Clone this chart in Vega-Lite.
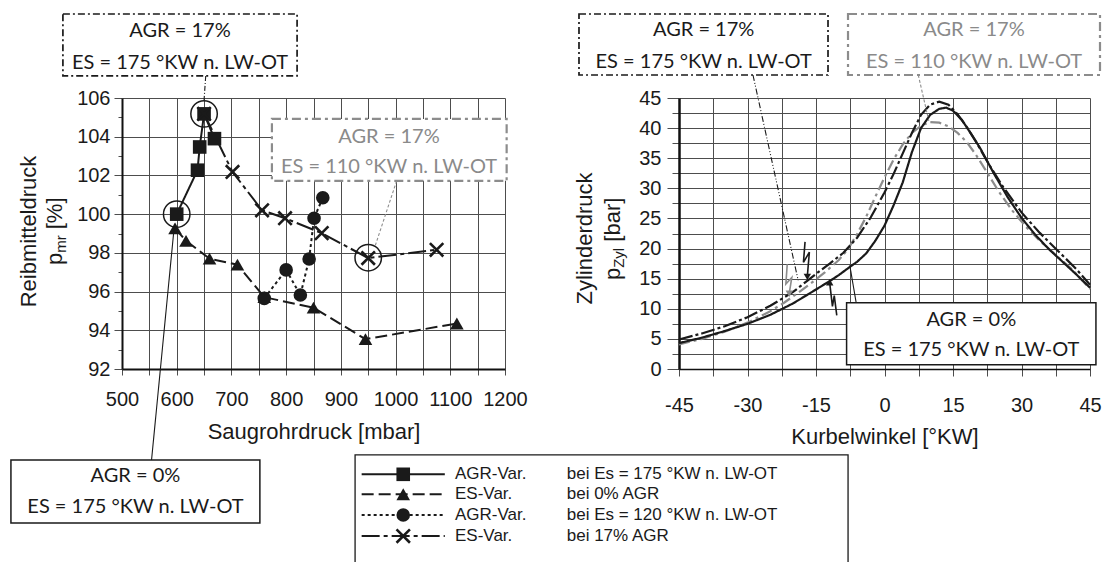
{
  "$schema": "https://vega.github.io/schema/vega-lite/v6.json",
  "background": "white",
  "autosize": {"type": "pad"},
  "padding": {"left": 10, "top": 12, "right": 6, "bottom": 6},
  "bounds": "flush",
  "spacing": 174,
  "resolve": {"scale": {"strokeDash": "independent", "color": "independent", "stroke": "independent", "fill": "independent", "shape": "independent", "size": "independent"}},
  "config": {
    "font": "Liberation Sans",
    "view": {"stroke": null},
    "axis": {
      "gridColor": "#4d4d4d", "gridWidth": 1, "tickColor": "#4d4d4d", "tickWidth": 1,
      "labelFont": "Liberation Sans", "labelFontSize": 20, "labelColor": "#1a1a1a",
      "titleFont": "Liberation Sans", "titleFontSize": 22, "titleFontWeight": "normal", "titleColor": "#1a1a1a",
      "domainColor": "#111111", "labelOverlap": false, "labelFlush": false, "labelBound": false
    }
  },
  "datasets": {
    "pmr": [
      {"series": "AGR-Var. ES 175", "mbar": 600, "pmr": 100.0},
      {"series": "AGR-Var. ES 175", "mbar": 638, "pmr": 102.27},
      {"series": "AGR-Var. ES 175", "mbar": 642, "pmr": 103.47},
      {"series": "AGR-Var. ES 175", "mbar": 650, "pmr": 105.18},
      {"series": "AGR-Var. ES 175", "mbar": 669, "pmr": 103.9},
      {"series": "ES-Var. 0% AGR", "mbar": 597, "pmr": 99.27},
      {"series": "ES-Var. 0% AGR", "mbar": 617, "pmr": 98.62},
      {"series": "ES-Var. 0% AGR", "mbar": 660, "pmr": 97.7},
      {"series": "ES-Var. 0% AGR", "mbar": 711, "pmr": 97.39},
      {"series": "ES-Var. 0% AGR", "mbar": 760, "pmr": 95.71},
      {"series": "ES-Var. 0% AGR", "mbar": 850, "pmr": 95.17},
      {"series": "ES-Var. 0% AGR", "mbar": 945, "pmr": 93.54},
      {"series": "ES-Var. 0% AGR", "mbar": 1112, "pmr": 94.35},
      {"series": "AGR-Var. ES 120", "mbar": 760, "pmr": 95.65},
      {"series": "AGR-Var. ES 120", "mbar": 800, "pmr": 97.12},
      {"series": "AGR-Var. ES 120", "mbar": 826, "pmr": 95.82},
      {"series": "AGR-Var. ES 120", "mbar": 842, "pmr": 97.68},
      {"series": "AGR-Var. ES 120", "mbar": 851, "pmr": 99.79},
      {"series": "AGR-Var. ES 120", "mbar": 867, "pmr": 100.85},
      {"series": "ES-Var. 17% AGR", "mbar": 650, "pmr": 105.18},
      {"series": "ES-Var. 17% AGR", "mbar": 702, "pmr": 102.18},
      {"series": "ES-Var. 17% AGR", "mbar": 756, "pmr": 100.2},
      {"series": "ES-Var. 17% AGR", "mbar": 798, "pmr": 99.79},
      {"series": "ES-Var. 17% AGR", "mbar": 865, "pmr": 99.02},
      {"series": "ES-Var. 17% AGR", "mbar": 950, "pmr": 97.73},
      {"series": "ES-Var. 17% AGR", "mbar": 1075, "pmr": 98.16}
    ],
    "marked": [
      {"mbar": 600, "pmr": 100.0},
      {"mbar": 650, "pmr": 105.18},
      {"mbar": 950, "pmr": 97.75}
    ],
    "boxesL": [
      {"box": "AGR 17%, ES 175", "mbar": 392, "mbar2": 820, "pmr": 107.14, "pmr2": 110.34},
      {"box": "AGR 17%, ES 110", "mbar": 774, "mbar2": 1203, "pmr": 101.72, "pmr2": 104.92},
      {"box": "AGR 0%, ES 175", "mbar": 297, "mbar2": 752, "pmr": 84.04, "pmr2": 87.3}
    ],
    "textsL": [
      {"box": "AGR 17%, ES 175", "mbar": 606, "pmr": 109.46, "text": "AGR = 17%"},
      {"box": "AGR 17%, ES 175", "mbar": 606, "pmr": 107.82, "text": "ES = 175 °KW n. LW-OT"},
      {"box": "AGR 17%, ES 110", "mbar": 988, "pmr": 103.98, "text": "AGR = 17%"},
      {"box": "AGR 17%, ES 110", "mbar": 988, "pmr": 102.44, "text": "ES = 110 °KW n. LW-OT"},
      {"box": "AGR 0%, ES 175", "mbar": 524.6, "pmr": 86.47, "text": "AGR = 0%"},
      {"box": "AGR 0%, ES 175", "mbar": 524.6, "pmr": 84.85, "text": "ES = 175 °KW n. LW-OT"}
    ],
    "leadersL": [
      {"box": "AGR 17%, ES 175", "i": 0, "mbar": 653, "pmr": 107.14},
      {"box": "AGR 17%, ES 175", "i": 1, "mbar": 650, "pmr": 105.9},
      {"box": "AGR 17%, ES 110", "i": 0, "mbar": 1002, "pmr": 101.72},
      {"box": "AGR 17%, ES 110", "i": 1, "mbar": 962, "pmr": 98.3},
      {"box": "AGR 0%, ES 175", "i": 0, "mbar": 554, "pmr": 87.3},
      {"box": "AGR 0%, ES 175", "i": 1, "mbar": 596, "pmr": 99.5}
    ],
    "legendBox": [{"mbar": 926, "mbar2": 1827, "pmr": 80.0, "pmr2": 87.56}],
    "legend": [
      {"series": "AGR-Var. ES 175", "part": "line", "mbar": 938, "mbar2": 1090, "pmr": 86.56},
      {"series": "ES-Var. 0% AGR", "part": "line", "mbar": 938, "mbar2": 1090, "pmr": 85.53},
      {"series": "AGR-Var. ES 120", "part": "line", "mbar": 938, "mbar2": 1090, "pmr": 84.46},
      {"series": "ES-Var. 17% AGR", "part": "line", "mbar": 938, "mbar2": 1090, "pmr": 83.37},
      {"series": "AGR-Var. ES 175", "part": "mark", "mbar": 1014, "pmr": 86.56},
      {"series": "ES-Var. 0% AGR", "part": "mark", "mbar": 1014, "pmr": 85.53},
      {"series": "AGR-Var. ES 120", "part": "mark", "mbar": 1014, "pmr": 84.46},
      {"series": "ES-Var. 17% AGR", "part": "mark", "mbar": 1014, "pmr": 83.37},
      {"series": "AGR-Var. ES 175", "part": "name", "mbar": 1108.6, "pmr": 86.56, "text": "AGR-Var."},
      {"series": "ES-Var. 0% AGR", "part": "name", "mbar": 1108.6, "pmr": 85.53, "text": "ES-Var."},
      {"series": "AGR-Var. ES 120", "part": "name", "mbar": 1108.6, "pmr": 84.46, "text": "AGR-Var."},
      {"series": "ES-Var. 17% AGR", "part": "name", "mbar": 1108.6, "pmr": 83.37, "text": "ES-Var."},
      {"series": "AGR-Var. ES 175", "part": "desc", "mbar": 1312.8, "pmr": 86.56, "text": "bei Es = 175 °KW n. LW-OT"},
      {"series": "ES-Var. 0% AGR", "part": "desc", "mbar": 1312.8, "pmr": 85.53, "text": "bei 0% AGR"},
      {"series": "AGR-Var. ES 120", "part": "desc", "mbar": 1312.8, "pmr": 84.46, "text": "bei Es = 120 °KW n. LW-OT"},
      {"series": "ES-Var. 17% AGR", "part": "desc", "mbar": 1312.8, "pmr": 83.37, "text": "bei 17% AGR"}
    ],
    "ytitleL": [
      {"t": "p", "part": "main", "mbar": 390.3, "pmr": 97.37},
      {"t": "mr", "part": "sub", "mbar": 397.6, "pmr": 98.0},
      {"t": "[%]", "part": "main", "mbar": 390.3, "pmr": 99.22}
    ],
    "pzyl": [
      {"curve": "AGR 17%, ES 110", "deg": -45, "bar": 4.1},
      {"curve": "AGR 17%, ES 110", "deg": -40, "bar": 5.0},
      {"curve": "AGR 17%, ES 110", "deg": -35, "bar": 6.2},
      {"curve": "AGR 17%, ES 110", "deg": -30, "bar": 7.7},
      {"curve": "AGR 17%, ES 110", "deg": -25, "bar": 9.6},
      {"curve": "AGR 17%, ES 110", "deg": -22, "bar": 11.0},
      {"curve": "AGR 17%, ES 110", "deg": -19, "bar": 12.6},
      {"curve": "AGR 17%, ES 110", "deg": -16, "bar": 14.3},
      {"curve": "AGR 17%, ES 110", "deg": -13, "bar": 16.1},
      {"curve": "AGR 17%, ES 110", "deg": -10, "bar": 18.1},
      {"curve": "AGR 17%, ES 110", "deg": -8, "bar": 19.9},
      {"curve": "AGR 17%, ES 110", "deg": -6, "bar": 22.4},
      {"curve": "AGR 17%, ES 110", "deg": -4, "bar": 25.3},
      {"curve": "AGR 17%, ES 110", "deg": -2, "bar": 28.6},
      {"curve": "AGR 17%, ES 110", "deg": 0, "bar": 31.8},
      {"curve": "AGR 17%, ES 110", "deg": 2, "bar": 34.8},
      {"curve": "AGR 17%, ES 110", "deg": 4, "bar": 37.3},
      {"curve": "AGR 17%, ES 110", "deg": 6, "bar": 39.2},
      {"curve": "AGR 17%, ES 110", "deg": 8, "bar": 40.4},
      {"curve": "AGR 17%, ES 110", "deg": 10, "bar": 41.0},
      {"curve": "AGR 17%, ES 110", "deg": 12, "bar": 40.9},
      {"curve": "AGR 17%, ES 110", "deg": 14, "bar": 40.3},
      {"curve": "AGR 17%, ES 110", "deg": 16, "bar": 39.2},
      {"curve": "AGR 17%, ES 110", "deg": 18, "bar": 37.7},
      {"curve": "AGR 17%, ES 110", "deg": 20, "bar": 35.6},
      {"curve": "AGR 17%, ES 110", "deg": 22, "bar": 33.2},
      {"curve": "AGR 17%, ES 110", "deg": 25, "bar": 29.5},
      {"curve": "AGR 17%, ES 110", "deg": 28, "bar": 26.3},
      {"curve": "AGR 17%, ES 110", "deg": 31, "bar": 23.6},
      {"curve": "AGR 17%, ES 110", "deg": 34, "bar": 21.3},
      {"curve": "AGR 17%, ES 110", "deg": 38, "bar": 18.6},
      {"curve": "AGR 17%, ES 110", "deg": 41, "bar": 16.6},
      {"curve": "AGR 17%, ES 110", "deg": 45, "bar": 13.3},
      {"curve": "AGR 17%, ES 175", "deg": -45, "bar": 4.9},
      {"curve": "AGR 17%, ES 175", "deg": -40, "bar": 5.9},
      {"curve": "AGR 17%, ES 175", "deg": -35, "bar": 7.1},
      {"curve": "AGR 17%, ES 175", "deg": -30, "bar": 8.6},
      {"curve": "AGR 17%, ES 175", "deg": -25, "bar": 10.5},
      {"curve": "AGR 17%, ES 175", "deg": -20, "bar": 12.8},
      {"curve": "AGR 17%, ES 175", "deg": -17, "bar": 14.6},
      {"curve": "AGR 17%, ES 175", "deg": -15, "bar": 15.8},
      {"curve": "AGR 17%, ES 175", "deg": -12, "bar": 17.5},
      {"curve": "AGR 17%, ES 175", "deg": -9, "bar": 19.3},
      {"curve": "AGR 17%, ES 175", "deg": -6, "bar": 21.8},
      {"curve": "AGR 17%, ES 175", "deg": -3, "bar": 25.2},
      {"curve": "AGR 17%, ES 175", "deg": 0, "bar": 29.3},
      {"curve": "AGR 17%, ES 175", "deg": 2, "bar": 32.4},
      {"curve": "AGR 17%, ES 175", "deg": 4, "bar": 35.8},
      {"curve": "AGR 17%, ES 175", "deg": 6, "bar": 39.2},
      {"curve": "AGR 17%, ES 175", "deg": 8, "bar": 42.2},
      {"curve": "AGR 17%, ES 175", "deg": 10, "bar": 43.9},
      {"curve": "AGR 17%, ES 175", "deg": 12, "bar": 44.4},
      {"curve": "AGR 17%, ES 175", "deg": 14, "bar": 43.9},
      {"curve": "AGR 17%, ES 175", "deg": 16, "bar": 42.3},
      {"curve": "AGR 17%, ES 175", "deg": 18, "bar": 40.2},
      {"curve": "AGR 17%, ES 175", "deg": 20, "bar": 37.8},
      {"curve": "AGR 17%, ES 175", "deg": 23, "bar": 33.8},
      {"curve": "AGR 17%, ES 175", "deg": 26, "bar": 30.2},
      {"curve": "AGR 17%, ES 175", "deg": 30, "bar": 26.0},
      {"curve": "AGR 17%, ES 175", "deg": 34, "bar": 22.6},
      {"curve": "AGR 17%, ES 175", "deg": 38, "bar": 19.6},
      {"curve": "AGR 17%, ES 175", "deg": 42, "bar": 16.6},
      {"curve": "AGR 17%, ES 175", "deg": 45, "bar": 14.0},
      {"curve": "AGR 0%, ES 175", "deg": -45, "bar": 4.3},
      {"curve": "AGR 0%, ES 175", "deg": -40, "bar": 5.2},
      {"curve": "AGR 0%, ES 175", "deg": -35, "bar": 6.3},
      {"curve": "AGR 0%, ES 175", "deg": -30, "bar": 7.5},
      {"curve": "AGR 0%, ES 175", "deg": -25, "bar": 9.0},
      {"curve": "AGR 0%, ES 175", "deg": -20, "bar": 10.9},
      {"curve": "AGR 0%, ES 175", "deg": -15, "bar": 13.2},
      {"curve": "AGR 0%, ES 175", "deg": -12, "bar": 14.6},
      {"curve": "AGR 0%, ES 175", "deg": -10, "bar": 15.6},
      {"curve": "AGR 0%, ES 175", "deg": -7.5, "bar": 17.0},
      {"curve": "AGR 0%, ES 175", "deg": -6, "bar": 17.8},
      {"curve": "AGR 0%, ES 175", "deg": -4, "bar": 19.2},
      {"curve": "AGR 0%, ES 175", "deg": -2, "bar": 21.3},
      {"curve": "AGR 0%, ES 175", "deg": 0, "bar": 23.8},
      {"curve": "AGR 0%, ES 175", "deg": 2, "bar": 27.2},
      {"curve": "AGR 0%, ES 175", "deg": 4, "bar": 31.0},
      {"curve": "AGR 0%, ES 175", "deg": 6, "bar": 36.0},
      {"curve": "AGR 0%, ES 175", "deg": 8, "bar": 40.0},
      {"curve": "AGR 0%, ES 175", "deg": 10, "bar": 42.2},
      {"curve": "AGR 0%, ES 175", "deg": 12, "bar": 43.2},
      {"curve": "AGR 0%, ES 175", "deg": 13.5, "bar": 43.4},
      {"curve": "AGR 0%, ES 175", "deg": 15, "bar": 42.9},
      {"curve": "AGR 0%, ES 175", "deg": 17, "bar": 41.3},
      {"curve": "AGR 0%, ES 175", "deg": 19, "bar": 39.0},
      {"curve": "AGR 0%, ES 175", "deg": 21, "bar": 36.6},
      {"curve": "AGR 0%, ES 175", "deg": 24, "bar": 32.4},
      {"curve": "AGR 0%, ES 175", "deg": 27, "bar": 28.5},
      {"curve": "AGR 0%, ES 175", "deg": 30, "bar": 25.1},
      {"curve": "AGR 0%, ES 175", "deg": 33, "bar": 22.3},
      {"curve": "AGR 0%, ES 175", "deg": 36, "bar": 19.9},
      {"curve": "AGR 0%, ES 175", "deg": 39, "bar": 17.8},
      {"curve": "AGR 0%, ES 175", "deg": 42, "bar": 15.7},
      {"curve": "AGR 0%, ES 175", "deg": 45, "bar": 13.5}
    ],
    "bolts": [
      {"curve": "AGR 17%, ES 110", "i": 0, "deg": -21.3, "bar": 17.4},
      {"curve": "AGR 17%, ES 110", "i": 1, "deg": -21.6, "bar": 14.1},
      {"curve": "AGR 17%, ES 110", "i": 2, "deg": -20.3, "bar": 15.2},
      {"curve": "AGR 17%, ES 110", "i": 3, "deg": -20.85, "bar": 12.6},
      {"curve": "AGR 17%, ES 175", "i": 0, "deg": -17.4, "bar": 21.1},
      {"curve": "AGR 17%, ES 175", "i": 1, "deg": -17.75, "bar": 17.7},
      {"curve": "AGR 17%, ES 175", "i": 2, "deg": -16.45, "bar": 19.4},
      {"curve": "AGR 17%, ES 175", "i": 3, "deg": -16.9, "bar": 15.4},
      {"curve": "AGR 0%, ES 175", "i": 0, "deg": -10.45, "bar": 8.9},
      {"curve": "AGR 0%, ES 175", "i": 1, "deg": -11.0, "bar": 12.2},
      {"curve": "AGR 0%, ES 175", "i": 2, "deg": -11.4, "bar": 10.4},
      {"curve": "AGR 0%, ES 175", "i": 3, "deg": -12.0, "bar": 14.3}
    ],
    "heads": [
      {"curve": "AGR 17%, ES 110", "dir": "down", "deg": -20.85, "bar": 12.5},
      {"curve": "AGR 17%, ES 175", "dir": "down", "deg": -16.9, "bar": 15.3},
      {"curve": "AGR 0%, ES 175", "dir": "up", "deg": -12.0, "bar": 14.4}
    ],
    "boxesR": [
      {"box": "AGR 17%, ES 175", "deg": -66.9, "deg2": -12.37, "bar": 48.82, "bar2": 58.95},
      {"box": "AGR 17%, ES 110", "deg": -7.99, "deg2": 47.19, "bar": 48.82, "bar2": 58.95},
      {"box": "AGR 0%, ES 175", "deg": -8.3, "deg2": 46.3, "bar": 0.7, "bar2": 11.0}
    ],
    "textsR": [
      {"box": "AGR 17%, ES 175", "deg": -39.6, "bar": 56.29, "text": "AGR = 17%"},
      {"box": "AGR 17%, ES 175", "deg": -39.6, "bar": 50.98, "text": "ES = 175 °KW n. LW-OT"},
      {"box": "AGR 17%, ES 110", "deg": 19.6, "bar": 56.29, "text": "AGR = 17%"},
      {"box": "AGR 17%, ES 110", "deg": 19.6, "bar": 50.98, "text": "ES = 110 °KW n. LW-OT"},
      {"box": "AGR 0%, ES 175", "deg": 19.0, "bar": 8.16, "text": "AGR = 0%"},
      {"box": "AGR 0%, ES 175", "deg": 19.0, "bar": 3.2, "text": "ES = 175 °KW n. LW-OT"}
    ],
    "leadersR": [
      {"box": "AGR 17%, ES 175", "i": 0, "deg": -28.8, "bar": 48.82},
      {"box": "AGR 17%, ES 175", "i": 1, "deg": -18.9, "bar": 14.7},
      {"box": "AGR 17%, ES 110", "i": 0, "deg": 7.4, "bar": 48.82},
      {"box": "AGR 17%, ES 110", "i": 1, "deg": 9.7, "bar": 41.2},
      {"box": "AGR 0%, ES 175", "i": 0, "deg": -6.2, "bar": 11.0},
      {"box": "AGR 0%, ES 175", "i": 1, "deg": -7.6, "bar": 17.2}
    ],
    "ytitleR": [
      {"t": "p", "part": "main", "deg": -57.92, "bar": 14.78},
      {"t": "Zyl", "part": "sub", "deg": -57.04, "bar": 16.8},
      {"t": "[bar]", "part": "main", "deg": -57.92, "bar": 21.14}
    ]
  },
  "hconcat": [
    {
      "width": 383,
      "height": 271,
      "resolve": {"scale": {"strokeDash": "independent", "stroke": "independent", "fill": "independent", "shape": "independent", "size": "independent"}},
      "encoding": {
        "x": {"field": "mbar", "type": "quantitative", "scale": {"domain": [500, 1200], "nice": false, "zero": false},
          "axis": {"values": [500, 550, 600, 650, 700, 750, 800, 850, 900, 950, 1000, 1050, 1100, 1150, 1200], "format": "d",
            "labelExpr": "datum.value % 100 === 0 ? datum.label : ''",
            "title": "Saugrohrdruck [mbar]", "titleY": 69, "titleBaseline": "alphabetic",
            "tickSize": 6, "labelPadding": 14, "domainWidth": 2}},
        "y": {"field": "pmr", "type": "quantitative", "scale": {"domain": [92, 106], "nice": false, "zero": false},
          "axis": {"values": [92, 93, 94, 95, 96, 97, 98, 99, 100, 101, 102, 103, 104, 105, 106], "format": "d",
            "labelExpr": "datum.value % 2 === 0 ? datum.label : ''",
            "gridOpacity": {"condition": {"test": "datum.value % 2 === 0", "value": 1}, "value": 0},
            "tickSize": {"condition": {"test": "datum.value % 2 === 0", "value": 8}, "value": 4},
            "labelPadding": 4, "title": "Reibmitteldruck", "titleAngle": 270, "titleX": -87, "titleY": 133,
            "titleAlign": "center", "titleBaseline": "alphabetic", "domainWidth": 2}}
      },
      "layer": [
        {
          "data": {"name": "pmr"},
          "mark": {"type": "line", "strokeWidth": 2, "color": "#1a1a1a"},
          "encoding": {
            "detail": {"field": "series"},
            "strokeDash": {"field": "series", "type": "nominal", "legend": null,
              "scale": {"domain": ["AGR-Var. ES 175", "ES-Var. 0% AGR", "AGR-Var. ES 120", "ES-Var. 17% AGR"], "range": [[1, 0], [12, 5], [3, 3], [18, 4, 4, 4]]}}
          }
        },
        {
          "data": {"name": "pmr"},
          "transform": [{"filter": "datum.series !== 'ES-Var. 17% AGR'"}],
          "mark": {"type": "point", "filled": true, "opacity": 1, "color": "#1a1a1a", "size": 185},
          "encoding": {
            "shape": {"field": "series", "type": "nominal", "legend": null,
              "scale": {"domain": ["AGR-Var. ES 175", "ES-Var. 0% AGR", "AGR-Var. ES 120"], "range": ["square", "triangle-up", "circle"]}}
          }
        },
        {
          "data": {"name": "pmr"},
          "transform": [{"filter": "datum.series === 'ES-Var. 17% AGR'"}],
          "mark": {"type": "point", "shape": "M-1,-1L1,1M-1,1L1,-1", "filled": false, "opacity": 1, "color": "#1a1a1a", "strokeWidth": 2.6, "size": 180}
        },
        {
          "data": {"name": "marked"},
          "mark": {"type": "point", "shape": "circle", "filled": false, "opacity": 1, "color": "#1a1a1a", "strokeWidth": 1.5, "size": 700}
        },
        {
          "data": {"name": "leadersL"},
          "mark": {"type": "line", "strokeWidth": 1.1},
          "encoding": {
            "detail": {"field": "box"},
            "order": {"field": "i"},
            "stroke": {"field": "box", "type": "nominal", "legend": null,
              "scale": {"domain": ["AGR 17%, ES 175", "AGR 17%, ES 110", "AGR 0%, ES 175"], "range": ["#1a1a1a", "#8c8c8c", "#1a1a1a"]}},
            "strokeDash": {"field": "box", "type": "nominal", "legend": null,
              "scale": {"domain": ["AGR 17%, ES 175", "AGR 17%, ES 110", "AGR 0%, ES 175"], "range": [[5, 2, 1, 2], [3, 2], [1, 0]]}}
          }
        },
        {
          "data": {"name": "boxesL"},
          "transform": [{"filter": "datum.box === 'AGR 17%, ES 175'"}],
          "mark": {"type": "rect", "fill": "white", "stroke": "#1a1a1a", "strokeWidth": 1.7, "strokeDash": [7, 3, 2, 3]},
          "encoding": {"x2": {"field": "mbar2"}, "y2": {"field": "pmr2"}}
        },
        {
          "data": {"name": "boxesL"},
          "transform": [{"filter": "datum.box === 'AGR 17%, ES 110'"}],
          "mark": {"type": "rect", "fill": "white", "stroke": "#8c8c8c", "strokeWidth": 2.2, "strokeDash": [9, 4, 3, 4]},
          "encoding": {"x2": {"field": "mbar2"}, "y2": {"field": "pmr2"}}
        },
        {
          "data": {"name": "boxesL"},
          "transform": [{"filter": "datum.box === 'AGR 0%, ES 175'"}],
          "mark": {"type": "rect", "fill": "white", "stroke": "#1a1a1a", "strokeWidth": 1.5},
          "encoding": {"x2": {"field": "mbar2"}, "y2": {"field": "pmr2"}}
        },
        {
          "data": {"name": "textsL"},
          "mark": {"type": "text", "font": "Lato", "fontSize": 20, "align": "center", "baseline": "middle"},
          "encoding": {
            "text": {"field": "text"},
            "fill": {"field": "box", "type": "nominal", "legend": null,
              "scale": {"domain": ["AGR 17%, ES 175", "AGR 17%, ES 110", "AGR 0%, ES 175"], "range": ["#1a1a1a", "#8a8a8a", "#1a1a1a"]}}
          }
        },
        {
          "data": {"name": "legendBox"},
          "mark": {"type": "rect", "fill": "white", "stroke": "#1a1a1a", "strokeWidth": 1.3},
          "encoding": {"x2": {"field": "mbar2"}, "y2": {"field": "pmr2"}}
        },
        {
          "data": {"name": "legend"},
          "transform": [{"filter": "datum.part === 'line'"}],
          "mark": {"type": "rule", "strokeWidth": 2, "color": "#1a1a1a"},
          "encoding": {
            "x2": {"field": "mbar2"},
            "strokeDash": {"field": "series", "type": "nominal", "legend": null,
              "scale": {"domain": ["AGR-Var. ES 175", "ES-Var. 0% AGR", "AGR-Var. ES 120", "ES-Var. 17% AGR"], "range": [[1, 0], [12, 5], [3, 3], [18, 4, 4, 4]]}}
          }
        },
        {
          "data": {"name": "legend"},
          "transform": [{"filter": "datum.part === 'mark' && datum.series !== 'ES-Var. 17% AGR'"}],
          "mark": {"type": "point", "filled": true, "opacity": 1, "color": "#1a1a1a", "size": 185},
          "encoding": {
            "shape": {"field": "series", "type": "nominal", "legend": null,
              "scale": {"domain": ["AGR-Var. ES 175", "ES-Var. 0% AGR", "AGR-Var. ES 120"], "range": ["square", "triangle-up", "circle"]}}
          }
        },
        {
          "data": {"name": "legend"},
          "transform": [{"filter": "datum.part === 'mark' && datum.series === 'ES-Var. 17% AGR'"}],
          "mark": {"type": "point", "shape": "M-1,-1L1,1M-1,1L1,-1", "filled": false, "opacity": 1, "color": "#1a1a1a", "strokeWidth": 2.6, "size": 180}
        },
        {
          "data": {"name": "legend"},
          "transform": [{"filter": "datum.part === 'name' || datum.part === 'desc'"}],
          "mark": {"type": "text", "fontSize": 17, "align": "left", "baseline": "middle", "color": "#1a1a1a"},
          "encoding": {"text": {"field": "text"}}
        },
        {
          "data": {"name": "ytitleL"},
          "mark": {"type": "text", "angle": 270, "align": "left", "baseline": "alphabetic", "color": "#1a1a1a"},
          "encoding": {
            "text": {"field": "t"},
            "size": {"field": "part", "type": "nominal", "legend": null, "scale": {"domain": ["main", "sub"], "range": [22, 15]}}
          }
        }
      ]
    },
    {
      "width": 411,
      "height": 271,
      "resolve": {"scale": {"strokeDash": "independent", "stroke": "independent", "fill": "independent", "shape": "independent", "size": "independent"}},
      "encoding": {
        "x": {"field": "deg", "type": "quantitative", "scale": {"domain": [-45, 45], "nice": false, "zero": false},
          "axis": {"values": [-45, -37.5, -30, -22.5, -15, -7.5, 0, 7.5, 15, 22.5, 30, 37.5, 45],
            "labelExpr": "datum.value % 15 === 0 ? '' + datum.value : ''",
            "title": "Kurbelwinkel [°KW]", "titleY": 74, "titleBaseline": "alphabetic",
            "tickSize": 7, "labelPadding": 19, "domainWidth": 1.5}},
        "y": {"field": "bar", "type": "quantitative", "scale": {"domain": [0, 45], "nice": false, "zero": false},
          "axis": {"values": [0, 2.5, 5, 7.5, 10, 12.5, 15, 17.5, 20, 22.5, 25, 27.5, 30, 32.5, 35, 37.5, 40, 42.5, 45],
            "labelExpr": "datum.value % 5 === 0 ? '' + datum.value : ''",
            "tickSize": {"condition": {"test": "datum.value % 5 === 0", "value": 12}, "value": 7},
            "labelPadding": 6, "title": "Zylinderdruck", "titleAngle": 270, "titleX": -88, "titleY": 140,
            "titleAlign": "center", "titleBaseline": "alphabetic", "domainWidth": 2.5}}
      },
      "layer": [
        {
          "data": {"name": "pzyl"},
          "mark": {"type": "line", "strokeWidth": 2.2},
          "encoding": {
            "color": {"field": "curve", "type": "nominal", "legend": null,
              "scale": {"domain": ["AGR 0%, ES 175", "AGR 17%, ES 175", "AGR 17%, ES 110"], "range": ["#1a1a1a", "#1a1a1a", "#8c8c8c"]}},
            "strokeDash": {"field": "curve", "type": "nominal", "legend": null,
              "scale": {"domain": ["AGR 0%, ES 175", "AGR 17%, ES 175", "AGR 17%, ES 110"], "range": [[1, 0], [14, 3, 3, 3], [11, 4, 3, 4]]}}
          }
        },
        {
          "data": {"name": "bolts"},
          "mark": {"type": "line", "strokeWidth": 1.6},
          "encoding": {
            "detail": {"field": "curve"},
            "order": {"field": "i"},
            "color": {"field": "curve", "type": "nominal", "legend": null,
              "scale": {"domain": ["AGR 0%, ES 175", "AGR 17%, ES 175", "AGR 17%, ES 110"], "range": ["#1a1a1a", "#1a1a1a", "#8c8c8c"]}}
          }
        },
        {
          "data": {"name": "heads"},
          "mark": {"type": "point", "filled": true, "opacity": 1, "size": 55},
          "encoding": {
            "color": {"field": "curve", "type": "nominal", "legend": null,
              "scale": {"domain": ["AGR 0%, ES 175", "AGR 17%, ES 175", "AGR 17%, ES 110"], "range": ["#1a1a1a", "#1a1a1a", "#8c8c8c"]}},
            "shape": {"field": "dir", "type": "nominal", "legend": null, "scale": {"domain": ["down", "up"], "range": ["triangle-down", "triangle-up"]}}
          }
        },
        {
          "data": {"name": "leadersR"},
          "mark": {"type": "line", "strokeWidth": 1.1},
          "encoding": {
            "detail": {"field": "box"},
            "order": {"field": "i"},
            "stroke": {"field": "box", "type": "nominal", "legend": null,
              "scale": {"domain": ["AGR 17%, ES 175", "AGR 17%, ES 110", "AGR 0%, ES 175"], "range": ["#1a1a1a", "#8c8c8c", "#1a1a1a"]}},
            "strokeDash": {"field": "box", "type": "nominal", "legend": null,
              "scale": {"domain": ["AGR 17%, ES 175", "AGR 17%, ES 110", "AGR 0%, ES 175"], "range": [[6, 2, 1, 2, 1, 2], [3, 2], [1, 0]]}}
          }
        },
        {
          "data": {"name": "boxesR"},
          "transform": [{"filter": "datum.box === 'AGR 17%, ES 175'"}],
          "mark": {"type": "rect", "fill": "white", "stroke": "#1a1a1a", "strokeWidth": 1.7, "strokeDash": [7, 3, 2, 3]},
          "encoding": {"x2": {"field": "deg2"}, "y2": {"field": "bar2"}}
        },
        {
          "data": {"name": "boxesR"},
          "transform": [{"filter": "datum.box === 'AGR 17%, ES 110'"}],
          "mark": {"type": "rect", "fill": "white", "stroke": "#8c8c8c", "strokeWidth": 2.2, "strokeDash": [9, 4, 3, 4]},
          "encoding": {"x2": {"field": "deg2"}, "y2": {"field": "bar2"}}
        },
        {
          "data": {"name": "boxesR"},
          "transform": [{"filter": "datum.box === 'AGR 0%, ES 175'"}],
          "mark": {"type": "rect", "fill": "white", "stroke": "#1a1a1a", "strokeWidth": 1.5},
          "encoding": {"x2": {"field": "deg2"}, "y2": {"field": "bar2"}}
        },
        {
          "data": {"name": "textsR"},
          "mark": {"type": "text", "font": "Lato", "fontSize": 20, "align": "center", "baseline": "middle"},
          "encoding": {
            "text": {"field": "text"},
            "fill": {"field": "box", "type": "nominal", "legend": null,
              "scale": {"domain": ["AGR 17%, ES 175", "AGR 17%, ES 110", "AGR 0%, ES 175"], "range": ["#1a1a1a", "#8a8a8a", "#1a1a1a"]}}
          }
        },
        {
          "data": {"name": "ytitleR"},
          "mark": {"type": "text", "angle": 270, "align": "left", "baseline": "alphabetic", "color": "#1a1a1a"},
          "encoding": {
            "text": {"field": "t"},
            "size": {"field": "part", "type": "nominal", "legend": null, "scale": {"domain": ["main", "sub"], "range": [22, 15]}}
          }
        }
      ]
    }
  ]
}
